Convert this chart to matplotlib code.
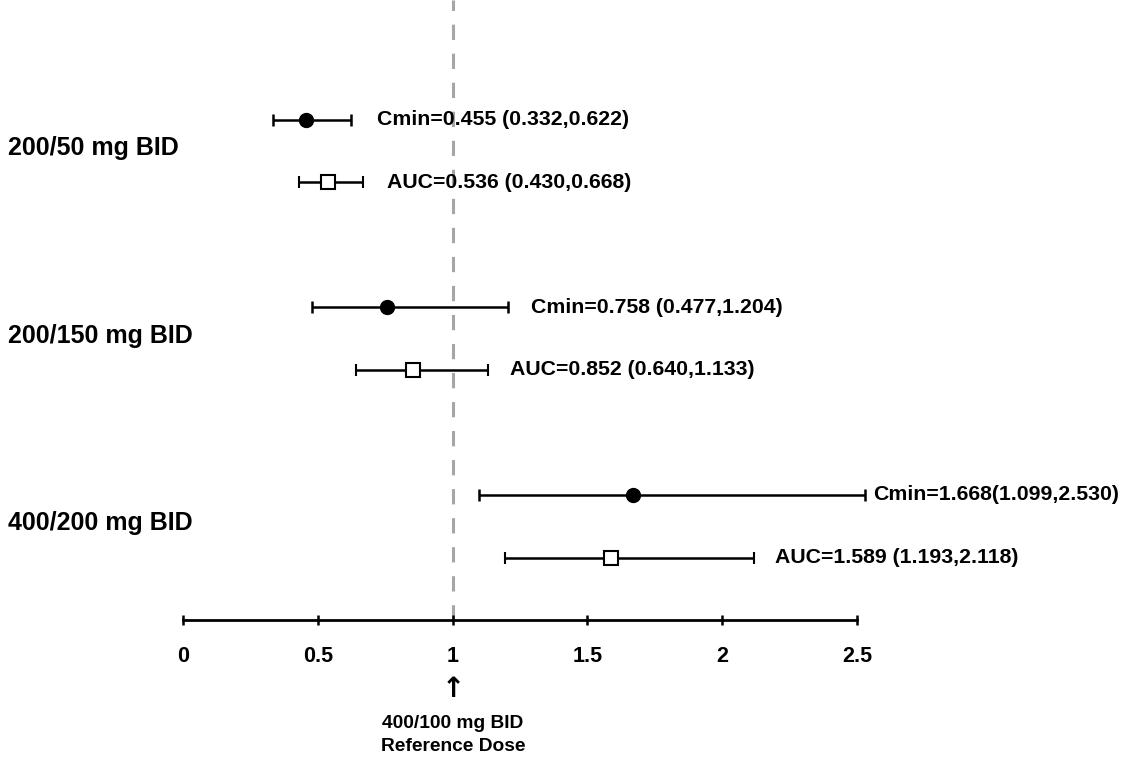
import matplotlib
matplotlib.use("Agg")
import matplotlib.pyplot as plt

# ---- data ----
groups = ["200/50 mg BID", "200/150 mg BID", "400/200 mg BID"]
cmin_est = [0.455, 0.758, 1.668]
cmin_lo = [0.332, 0.477, 1.099]
cmin_hi = [0.622, 1.204, 2.530]
auc_est = [0.536, 0.852, 1.589]
auc_lo = [0.430, 0.640, 1.193]
auc_hi = [0.668, 1.133, 2.118]
cmin_labels = ["Cmin=0.455 (0.332,0.622)", "Cmin=0.758 (0.477,1.204)", "Cmin=1.668(1.099,2.530)"]
auc_labels = ["AUC=0.536 (0.430,0.668)", "AUC=0.852 (0.640,1.133)", "AUC=1.589 (1.193,2.118)"]
xticks = [0, 0.5, 1, 1.5, 2, 2.5]
xticklabels = ["0", "0.5", "1", "1.5", "2", "2.5"]
ref_value = 1.0
ref_label = "400/100 mg BID\nReference Dose"

plt.rcParams['font.family'] = ['Liberation Sans', 'DejaVu Sans']
plt.rcParams['font.weight'] = 'bold'

W, H = 1144, 767
fig = plt.figure(figsize=(W / 100, H / 100), dpi=100)
ax = fig.add_axes([183 / W, 1 - 620 / H, (857 - 183) / W, 620 / H])
ax.set_xlim(0, 2.5)
ax.set_ylim(0, 9.92)

# y positions (top group first)
n = len(groups)
cmin_y = [8 - 3 * i for i in range(n)]
auc_y = [7 - 3 * i for i in range(n)]
lab_y = [7.55 - 3 * i for i in range(n)]

# reference line
ax.axvline(ref_value, color='#a6a6a6', lw=2.2, ls=(0, (5, 4.5)), zorder=1, clip_on=False)

for i in range(n):
    ax.errorbar([cmin_est[i]], [cmin_y[i]],
                xerr=[[cmin_est[i] - cmin_lo[i]], [cmin_hi[i] - cmin_est[i]]],
                fmt='o', color='black', ms=10, ecolor='black', elinewidth=1.8,
                capsize=4, capthick=1.8, zorder=3, clip_on=False)
    ax.errorbar([auc_est[i]], [auc_y[i]],
                xerr=[[auc_est[i] - auc_lo[i]], [auc_hi[i] - auc_est[i]]],
                fmt='s', mfc='white', mec='black', mew=1.5, ms=10, ecolor='black',
                elinewidth=1.8, capsize=4, capthick=1.8, zorder=3, clip_on=False)

offs_c = [26, 23, 8]
offs_a = [24, 22, 21]
for i in range(n):
    ax.annotate(cmin_labels[i], (cmin_hi[i], cmin_y[i]), xytext=(offs_c[i], 0),
                textcoords='offset pixels', ha='left', va='center',
                fontsize=15.3, fontweight='bold', annotation_clip=False)
    ax.annotate(auc_labels[i], (auc_hi[i], auc_y[i]), xytext=(offs_a[i], 0),
                textcoords='offset pixels', ha='left', va='center',
                fontsize=15.3, fontweight='bold', annotation_clip=False)
    fig.text(8 / W, 1 - (620 - lab_y[i] * 62.5) / H, groups[i], ha='left', va='center',
             fontsize=18, fontweight='bold')

# axis styling
for s in ['top', 'right', 'left']:
    ax.spines[s].set_visible(False)
ax.spines['bottom'].set_linewidth(2)
ax.set_yticks([])
ax.set_xticks(xticks)
ax.set_xticklabels(xticklabels, fontsize=15.5, fontweight='bold',
                   family=['Liberation Sans Narrow', 'Liberation Sans'])
ax.tick_params(axis='x', direction='inout', length=7, width=1.8, pad=15)

# reference annotation
fig.text(453 / W, 1 - 689 / H, "\u2191", ha='center', va='center', fontsize=20,
         family=['DejaVu Sans'])
fig.text(453 / W, 1 - 735 / H, ref_label, ha='center', va='center', fontsize=13.8,
         fontweight='bold', linespacing=1.42)

fig.savefig("out.png", dpi=100, facecolor='white')
